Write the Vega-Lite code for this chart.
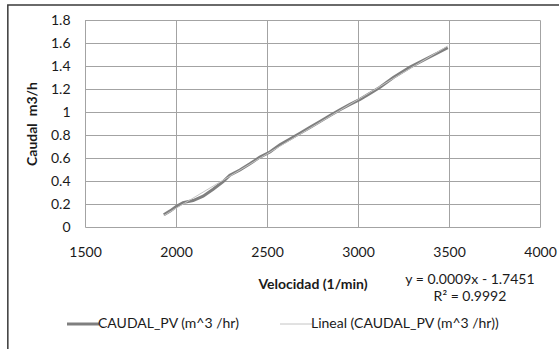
{
  "$schema": "https://vega.github.io/schema/vega-lite/v6.json",
  "width": 455,
  "height": 207,
  "autosize": {"type": "none"},
  "padding": {"left": 85, "top": 20, "right": 19, "bottom": 122},
  "background": "white",
  "config": {
    "font": "Lato",
    "view": {"stroke": null},
    "axis": {
      "grid": true,
      "gridColor": "#a3a3a3",
      "gridWidth": 1,
      "domain": false,
      "ticks": false,
      "labelOverlap": false,
      "labelFlush": false,
      "labelFont": "Lato",
      "labelFontSize": 14,
      "labelColor": "#1a1a1a",
      "titleFont": "Lato",
      "titleFontSize": 14,
      "titleFontWeight": "bold",
      "titleColor": "#1a1a1a"
    }
  },
  "data": {
    "values": [
      {"vel": 1933, "caudal": 0.106},
      {"vel": 1968, "caudal": 0.14},
      {"vel": 2003, "caudal": 0.18},
      {"vel": 2039, "caudal": 0.212},
      {"vel": 2094, "caudal": 0.23},
      {"vel": 2149, "caudal": 0.268},
      {"vel": 2204, "caudal": 0.328},
      {"vel": 2259, "caudal": 0.395},
      {"vel": 2296, "caudal": 0.45},
      {"vel": 2351, "caudal": 0.496},
      {"vel": 2406, "caudal": 0.55},
      {"vel": 2461, "caudal": 0.608},
      {"vel": 2516, "caudal": 0.652},
      {"vel": 2571, "caudal": 0.716},
      {"vel": 2626, "caudal": 0.765},
      {"vel": 2681, "caudal": 0.815},
      {"vel": 2736, "caudal": 0.866},
      {"vel": 2791, "caudal": 0.918},
      {"vel": 2846, "caudal": 0.97},
      {"vel": 2901, "caudal": 1.02},
      {"vel": 2956, "caudal": 1.066},
      {"vel": 3011, "caudal": 1.11},
      {"vel": 3066, "caudal": 1.162},
      {"vel": 3121, "caudal": 1.215},
      {"vel": 3194, "caudal": 1.3},
      {"vel": 3286, "caudal": 1.39},
      {"vel": 3378, "caudal": 1.465},
      {"vel": 3440, "caudal": 1.515},
      {"vel": 3493, "caudal": 1.56}
    ]
  },
  "layer": [
    {
      "data": {"values": [{}]},
      "mark": {"type": "rect", "fillOpacity": 0, "stroke": "#3a3a3a", "strokeWidth": 1.5, "clip": false},
      "encoding": {
        "x": {"datum": 1076},
        "x2": {"datum": 4700},
        "y": {"datum": 1.93},
        "y2": {"datum": -1.6}
      }
    },
    {
      "data": {"values": [{}]},
      "mark": {"type": "rule", "color": "#a3a3a3", "strokeWidth": 1, "xOffset": 0.5},
      "encoding": {
        "x": {"datum": 1500},
        "y": {"datum": 0},
        "y2": {"datum": 1.8}
      }
    },
    {
      "mark": {"type": "line", "strokeWidth": 3, "interpolate": "linear"},
      "encoding": {
        "x": {
          "field": "vel",
          "type": "quantitative",
          "scale": {"domain": [1500, 4000], "nice": false, "zero": false},
          "axis": {
            "values": [1500, 2000, 2500, 3000, 3500, 4000],
            "tickCount": 6,
            "format": "d",
            "labelPadding": 18,
            "title": "Velocidad (1/min)",
            "titlePadding": 18
          }
        },
        "y": {
          "field": "caudal",
          "type": "quantitative",
          "scale": {"domain": [0, 1.8], "nice": false},
          "axis": {
            "values": [0, 0.2, 0.4, 0.6, 0.8, 1, 1.2, 1.4, 1.6, 1.8],
            "tickCount": 10,
            "format": "~g",
            "labelPadding": 15,
            "title": "Caudal\u00a0\u00a0m3/h",
            "titlePadding": 11
          }
        },
        "color": {
          "datum": "CAUDAL_PV (m^3 /hr)",
          "scale": {
            "domain": ["CAUDAL_PV (m^3 /hr)", "Lineal (CAUDAL_PV (m^3 /hr))"],
            "range": ["#7f7f7f", "#c4c4c4"]
          },
          "legend": {
            "orient": "none",
            "legendX": -9,
            "legendY": 297,
            "direction": "horizontal",
            "title": null,
            "symbolType": "stroke",
            "symbolSize": 1024,
            "symbolStrokeWidth": 3,
            "labelFont": "Lato",
            "labelFontSize": 14,
            "labelColor": "#1a1a1a",
            "labelOffset": 8,
            "columnPadding": 38,
            "labelLimit": 400,
            "encode": {
              "symbols": {
                "update": {"strokeWidth": {"signal": "datum.index === 0 ? 3 : 1"}}
              }
            }
          }
        }
      }
    },
    {
      "transform": [{"regression": "caudal", "on": "vel", "method": "linear"}],
      "mark": {"type": "line", "strokeWidth": 1},
      "encoding": {
        "x": {"field": "vel", "type": "quantitative"},
        "y": {"field": "caudal", "type": "quantitative"},
        "color": {"datum": "Lineal (CAUDAL_PV (m^3 /hr))"}
      }
    },
    {
      "data": {"values": [{}]},
      "mark": {"type": "text", "align": "center", "baseline": "top", "fontSize": 14, "lineHeight": 17, "font": "Lato", "color": "#1a1a1a", "clip": false},
      "encoding": {
        "x": {"datum": 3615},
        "y": {"datum": -0.40},
        "text": {"value": ["y = 0.0009x - 1.7451", "R² = 0.9992"]}
      }
    }
  ]
}
